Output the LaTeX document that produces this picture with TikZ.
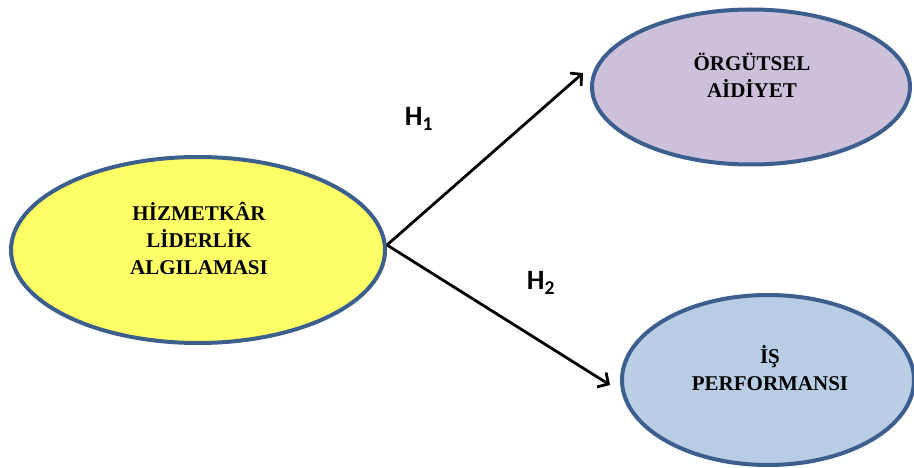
\documentclass[tikz,border=0pt]{standalone}
\usepackage{fontspec}
\setmainfont{Liberation Serif}
\newfontfamily\hfont{Carlito}
\usetikzlibrary{shapes.geometric,arrows.meta}

\definecolor{rim}{HTML}{3C5F8E}
\definecolor{leadfill}{HTML}{FFFF66}
\definecolor{belongfill}{HTML}{CCC0DA}
\definecolor{perffill}{HTML}{B9CDE5}

\tikzset{
	oval/.style={shape=ellipse, draw=rim, line width=4pt, inner sep=0pt},
	title/.style={align=center, font=\fontsize{21}{27}\selectfont\bfseries},
	hyp/.style={font=\hfont\fontsize{28}{28}\selectfont\bfseries},
	link/.style={line width=2.8pt, -{Straight Barb[length=8pt,width=17pt,line width=2.8pt]}}
}

\begin{document}
\begin{tikzpicture}[x=1pt,y=-1pt]
	\useasboundingbox (0,0) rectangle (914,468);

	\node[oval, fill=leadfill, minimum width=374pt, minimum height=186pt] (lead) at (198,250) {};
	\node[oval, fill=belongfill, minimum width=318pt, minimum height=155pt] (belong) at (751,87) {};
	\node[oval, fill=perffill, minimum width=292pt, minimum height=170pt] (perf) at (768,380) {};

	\node[title] (leadtxt) at (199,238) {HİZMETKÂR\\LİDERLİK\\ALGILAMASI};
	\node[title] (belongtxt) at (752,75) {ÖRGÜTSEL\\AİDİYET};
	\node[title] (perftxt) at (770,368) {İŞ\\PERFORMANSI};

	\coordinate (h1end) at (583,73);
	\coordinate (h2end) at (610,385);

	\node[hyp] (h1) at (419,119) {H\textsubscript{1}};
	\node[hyp] (h2) at (541,283) {H\textsubscript{2}};

	\path [link]
	([yshift=5pt]lead.east) edge (h1end)
		edge (h2end);
\end{tikzpicture}
\end{document}
